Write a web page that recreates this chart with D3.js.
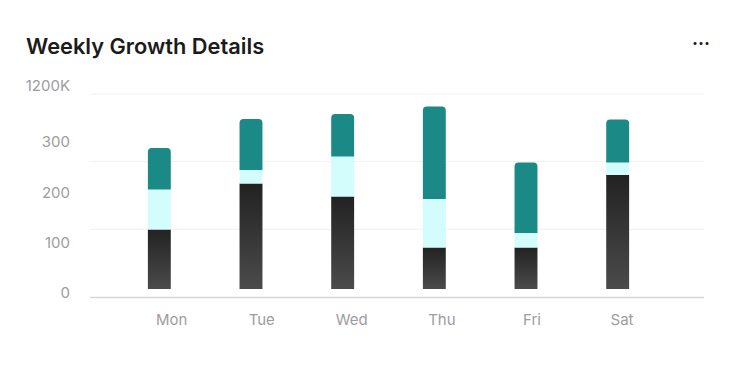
<!DOCTYPE html>
<html>
<head>
<meta charset="utf-8">
<script src="https://cdn.jsdelivr.net/npm/d3@7"></script>
<style>
  body { margin: 0; background: #fff; }
  svg text { font-family: Inter, "Open Sans", sans-serif; }
</style>
</head>
<body>
<svg id="chart" width="740" height="370"></svg>
<script>
// data
const days = ["Mon", "Tue", "Wed", "Thu", "Fri", "Sat"]
const base = [119, 211, 185, 83, 83, 228]
const middle = [80, 27, 80, 97, 29, 25]
const top_ = [83, 102, 85, 185, 141, 86]
const yTickValues = [0, 100, 200, 300]
const yTopLabel = "1200K"
const gridLines = [1, 2, 3]

let svg = d3.select("#chart")

// title
svg.append("text")
  .attr("x", 26).attr("y", 54)
  .attr("font-size", 21.8).attr("font-weight", 600)
  .attr("fill", "#1b1b1b")
  .text("Weekly Growth Details")

svg.append("text")
  .attr("x", 701).attr("y", 50)
  .attr("text-anchor", "middle")
  .attr("font-size", 18).attr("font-weight", 700)
  .attr("fill", "#222")
  .text("···")

let xScale = d3.scaleBand().domain(days).range([113.5, 663.5]).paddingInner(0.75).paddingOuter(0.375)
let xLabelScale = d3.scalePoint().domain(days).range([171.7, 622])
let yScale = d3.scaleLinear().domain([0, 400]).range([289, 89])
let gridScale = d3.scaleLinear().domain([0, 3]).range([297, 94])
let labelScale = d3.scaleLinear().domain([0, 300]).range([293, 142])

// grid
svg.selectAll(".grid")
  .data(gridLines)
  .enter()
  .append("line")
  .attr("class", "grid")
  .attr("x1", 90).attr("x2", 704)
  .attr("y1", d => gridScale(d)).attr("y2", d => gridScale(d))
  .attr("stroke", "#f1f1f1").attr("stroke-width", 1)

// y labels
svg.selectAll(".ylab")
  .data(yTickValues)
  .enter()
  .append("text")
  .attr("class", "ylab")
  .attr("x", 70).attr("y", d => labelScale(d))
  .attr("dy", "0.35em")
  .attr("text-anchor", "end")
  .attr("font-size", 15).attr("fill", "#9d9d9d")
  .text(d => d)

svg.append("text")
  .attr("x", 70).attr("y", gridScale(3) - 8)
  .attr("dy", "0.35em")
  .attr("text-anchor", "end")
  .attr("font-size", 15).attr("fill", "#9d9d9d")
  .text(yTopLabel)

// gradient for the dark segment
let defs = svg.append("defs")
let grad = defs.append("linearGradient").attr("id", "darkGrad")
  .attr("x1", 0).attr("y1", 0).attr("x2", 0).attr("y2", 1)
grad.append("stop").attr("offset", "0%").attr("stop-color", "#222222")
grad.append("stop").attr("offset", "100%").attr("stop-color", "#4b4b4b")

const rows = days.map((d, i) => ({ day: d, base: base[i], middle: middle[i], top: top_[i] }))
let stack = d3.stack().keys(["base", "middle", "top"])(rows)
const fills = { base: "url(#darkGrad)", middle: "#d3fcfc", top: "#1b8a86" }

let bw = xScale.bandwidth()
let r = 4

stack.forEach(layer => {
  let g = svg.append("g").attr("class", "layer-" + layer.key)
  g.selectAll("path")
    .data(layer)
    .enter()
    .append("path")
    .attr("fill", fills[layer.key])
    .attr("d", d => {
      let x0 = xScale(d.data.day), y0 = yScale(d[1]), y1 = yScale(d[0])
      if (layer.key != "top") return `M${x0},${y0}H${x0 + bw}V${y1}H${x0}Z`
      return `M${x0},${y1}V${y0 + r}Q${x0},${y0} ${x0 + r},${y0}H${x0 + bw - r}Q${x0 + bw},${y0} ${x0 + bw},${y0 + r}V${y1}Z`
    })
})

// x axis line
svg.append("line")
  .attr("x1", 90).attr("x2", 704)
  .attr("y1", 297.5).attr("y2", 297.5)
  .attr("stroke", "#d6d6d6").attr("stroke-width", 1.5)

// x labels
svg.selectAll(".xlab")
  .data(days)
  .enter()
  .append("text")
  .attr("class", "xlab")
  .attr("x", d => xLabelScale(d))
  .attr("y", 320).attr("dy", "0.35em")
  .attr("text-anchor", "middle")
  .attr("font-size", 15).attr("fill", "#9d9d9d")
  .text(d => d)
</script>
</body>
</html>
